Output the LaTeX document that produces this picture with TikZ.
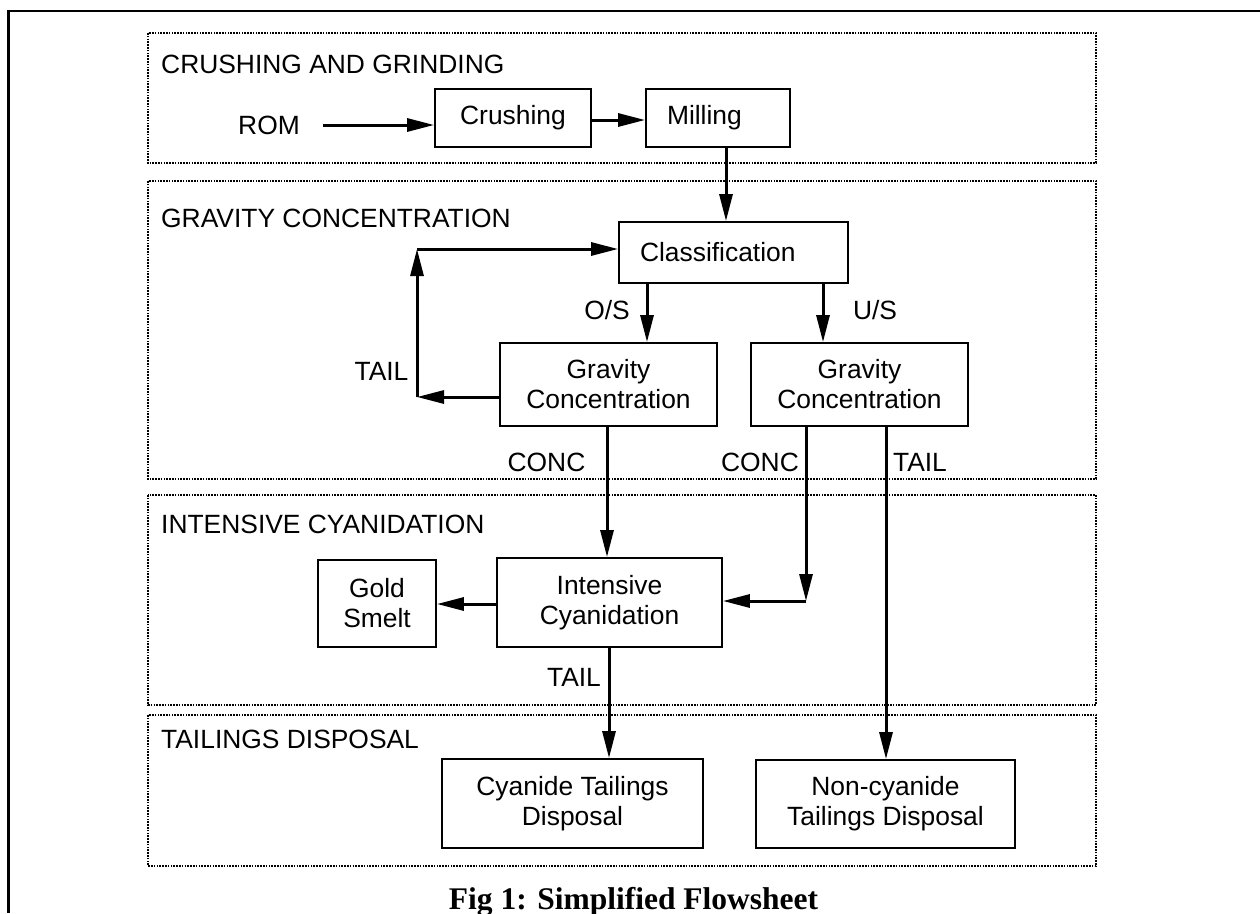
\documentclass[tikz,border=0pt]{standalone}
\usepackage{fontspec}
\setmainfont{Liberation Sans}
\newfontfamily\titlefont{Liberation Serif}
\usetikzlibrary{arrows.meta}
\newcommand\fs{\fontsize{26.4}{30}\selectfont}
\begin{document}
\begin{tikzpicture}[x=1pt,y=-1pt,
  proc/.style={draw, line width=1.8pt, inner sep=0pt, align=center, font=\fs},
  arr/.style={line width=3pt, -{Triangle[length=27pt,width=13pt]}},
  sect/.style={line width=2pt, dash pattern=on 1.6pt off 1.2pt},
  lbl/.style={font=\fs, inner sep=0pt},
]
\useasboundingbox (0,0) rectangle (1260,913);
\clip (0,0) rectangle (1260,913);
\fill[white] (0,0) rectangle (1260,913);

% outer frame
\draw[line width=2.5pt] (8.5,913) -- (8.5,11) -- (1260,11);

% sections
\draw[sect] (148,33) rectangle (1096,163);
\draw[sect] (148,181) rectangle (1096,479);
\draw[sect] (148,495) rectangle (1096,705);
\draw[sect] (148,715) rectangle (1096,866);

\node[lbl, anchor=base west] (s1) at (161,73) {CRUSHING AND GRINDING};
\node[lbl, anchor=base west] (s2) at (161,227) {GRAVITY CONCENTRATION};
\node[lbl, anchor=base west] (s3) at (161,533) {INTENSIVE CYANIDATION};
\node[lbl, anchor=base west] (s4) at (161,748) {TAILINGS DISPOSAL};

% boxes
\node[proc, minimum width=156pt, minimum height=58pt] (crush) at (513,118) {Crushing};
\node[proc, minimum width=144pt, minimum height=58pt, text width=102pt, inner xsep=21pt, align=left] (mill) at (718,118) {Milling};
\node[proc, minimum width=229pt, minimum height=61pt, text width=187pt, inner xsep=21pt, align=left] (cls) at (733.5,252.5) {Classification};
\node[proc, minimum width=217pt, minimum height=83pt] (g1) at (608.5,384.5) {Gravity\\Concentration};
\node[proc, minimum width=217pt, minimum height=83pt] (g2) at (859.5,384.5) {Gravity\\Concentration};
\node[proc, minimum width=225pt, minimum height=89pt] (ic) at (609.5,602.5) {Intensive\\Cyanidation};
\node[proc, minimum width=118pt, minimum height=87pt] (gold) at (377,603.5) {Gold\\Smelt};
\node[proc, minimum width=261pt, minimum height=89pt] (cy) at (572.5,803.5) {Cyanide Tailings\\Disposal};
\node[proc, minimum width=259pt, minimum height=88pt] (ncy) at (885.5,804) {Non-cyanide\\Tailings Disposal};

\node[lbl, inner xsep=23pt] (rom) at (269,125) {ROM};

% helper coordinates
\coordinate (xml) at (726,0);
\coordinate (xos) at (647,0);
\coordinate (xus) at (823,0);
\coordinate (fbtop) at (417,249);
\coordinate (fbbot) at (417,397);
\coordinate (xc1) at (607,0);
\coordinate (cjoin) at (806,601);
\coordinate (xt2) at (886,0);
\coordinate (xic) at (609,0);
\coordinate (ygs) at (0,604);

% connectors
\draw[arr] (rom.east) -- (rom.east -| crush.west);
\draw[arr] ([yshift=-2pt]crush.east) -- ([yshift=-2pt]crush.east -| mill.west);
\draw[arr] (mill.south -| xml) -- (cls.north -| xml);
\draw[arr] (cls.south -| xos) -- (g1.north -| xos);
\draw[arr] (cls.south -| xus) -- (g2.north -| xus);
\draw[arr] (g1.west |- fbbot) -- (fbbot);
\draw[arr] (fbbot) -- (fbtop);
\draw[arr] (fbtop) -- (fbtop -| cls.west);
\draw[arr] (g1.south -| xc1) -- (ic.north -| xc1);
\draw[arr] (g2.south -| cjoin) -- (cjoin);
\draw[arr] (cjoin) -- (cjoin -| ic.east);
\draw[arr] (g2.south -| xt2) -- (ncy.north -| xt2);
\draw[arr] (ic.west |- ygs) -- (gold.east |- ygs);
\draw[arr] (ic.south -| xic) -- (cy.north -| xic);

% connector labels
\node[lbl] (los) at (607,310) {O/S};
\node[lbl] (lus) at (875,310) {U/S};
\node[lbl] (ltail1) at (381.5,371) {TAIL};
\node[lbl] (lconc1) at (546.5,462.5) {CONC};
\node[lbl] (lconc2) at (760,462.5) {CONC};
\node[lbl] (ltail2) at (920,462.5) {TAIL};
\node[lbl] (ltail3) at (574,677.5) {TAIL};

% title
\node[font=\titlefont\bfseries\fontsize{31.5}{36}\selectfont, anchor=base, inner sep=0pt] (title) at (633.5,909.5) {Fig 1: Simplified Flowsheet};
\end{tikzpicture}
\end{document}
